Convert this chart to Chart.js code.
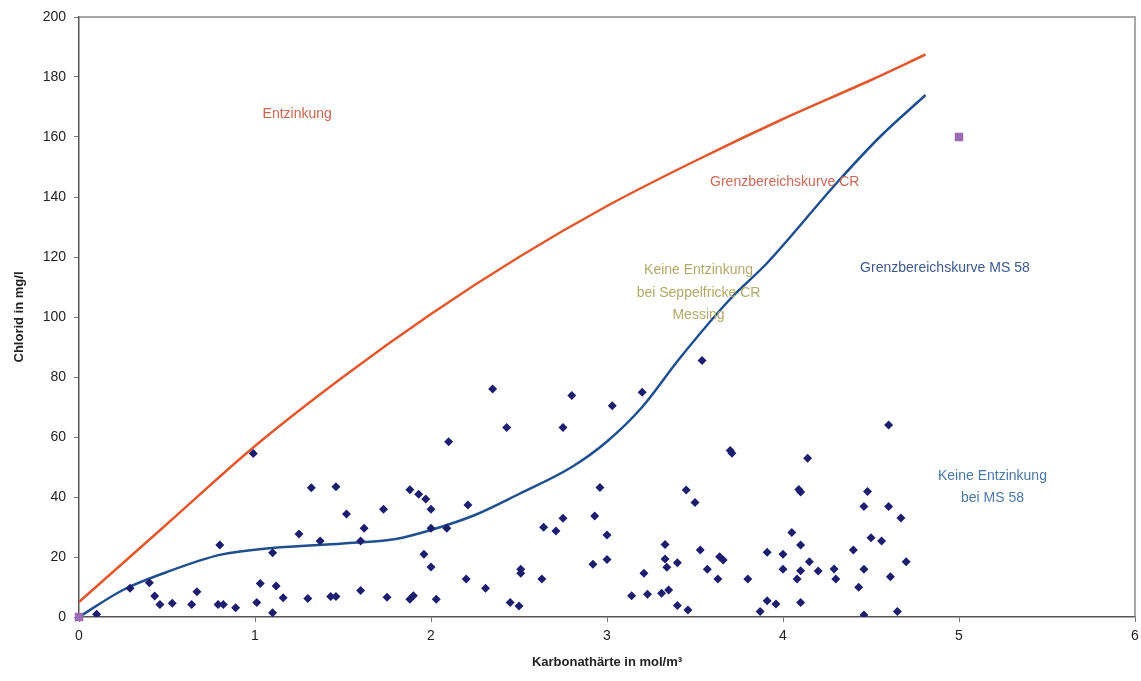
<!DOCTYPE html>
<html>
<head>
<meta charset="utf-8">
<script src="https://cdn.jsdelivr.net/npm/chart.js@4.4.0/dist/chart.umd.min.js"></script>
<style>
  body { margin: 0; background: #fff; }
  #wrap { width: 1141px; height: 681px; }
</style>
</head>
<body>
<div id="wrap"><canvas id="chlorChart"></canvas></div>
<script>
// Messpunkte (Karbonathärte, Chlorid)
const messX = [0.10, 0.29, 0.40, 0.43, 0.46, 0.53, 0.64, 0.67, 0.79, 0.82, 0.80, 0.89, 0.99, 1.01, 1.03, 1.10, 1.10, 1.12, 1.16,
  1.25, 1.30, 1.32, 1.37, 1.43, 1.46, 1.46, 1.52, 1.60, 1.62, 1.60, 1.73, 1.75, 1.88, 1.93, 1.97, 2.00, 2.00, 2.09, 2.21,
  1.96, 2.00, 2.20, 2.31, 1.88, 1.90, 2.03, 2.45, 2.50, 2.10, 2.35, 2.43, 2.51, 2.51, 2.63, 2.64, 2.71, 2.75, 2.75, 2.80,
  2.92, 2.93, 2.96, 3.00, 3.00, 3.03, 3.14, 3.20, 3.21, 3.23, 3.31, 3.35, 3.33, 3.33, 3.34, 3.40, 3.40, 3.46, 3.45, 3.50,
  3.53, 3.54, 3.57, 3.63, 3.64, 3.66, 3.70, 3.71, 3.80, 3.87, 3.91, 3.96, 3.91, 4.00, 4.00, 4.05, 4.08, 4.10, 4.10, 4.10,
  4.09, 4.10, 4.14, 4.15, 4.20, 4.29, 4.30, 4.40, 4.43, 4.46, 4.46, 4.46, 4.48, 4.50, 4.56, 4.60, 4.60, 4.61, 4.65, 4.67, 4.70];
const messY = [0.9, 9.6, 11.4, 7.0, 4.2, 4.6, 4.2, 8.4, 4.2, 4.2, 24.0, 3.1, 54.5, 4.8, 11.2, 21.4, 1.4, 10.3, 6.4,
  27.7, 6.2, 43.1, 25.3, 6.8, 6.8, 43.4, 34.3, 25.3, 29.6, 8.8, 35.9, 6.6, 42.4, 40.9, 39.3, 35.9, 29.6, 29.6, 37.3,
  20.9, 16.7, 12.7, 9.6, 5.9, 7.1, 5.9, 4.8, 3.7, 58.4, 76.0, 63.2, 15.9, 14.6, 12.7, 29.9, 28.7, 32.9, 63.2, 73.8,
  17.6, 33.7, 43.2, 27.3, 19.2, 70.4, 7.1, 74.9, 14.6, 7.6, 7.9, 9.0, 24.2, 19.3, 16.6, 18.1, 3.8, 2.3, 42.3, 38.2,
  22.3, 85.5, 15.9, 12.7, 20.1, 19.0, 55.5, 54.6, 12.7, 1.8, 5.4, 4.3, 21.6, 20.9, 15.9, 28.2, 12.7, 15.4, 24.0, 4.8,
  42.5, 41.7, 52.9, 18.4, 15.3, 16.0, 12.7, 22.3, 9.9, 0.7, 15.9, 36.8, 41.8, 26.4, 25.3, 36.8, 64.0, 13.4, 1.8, 33.0, 18.4];

// Referenzpunkte (lila)
const refX = [0, 5];
const refY = [0, 160];

// Grenzbereichskurve CR
const crX = [0, 0.5, 1, 1.5, 2, 2.5, 3, 3.5, 4, 4.5, 4.81];
const crY = [5, 31, 57, 80, 101, 120, 137, 152, 166, 179, 187.5];

// Grenzbereichskurve MS 58
const msX = [0, 0.25, 0.5, 0.8, 1.1, 1.5, 1.8, 2.0, 2.25, 2.5, 2.8, 3.0, 3.2, 3.41, 3.7, 3.91, 4.31, 4.55, 4.81];
const msY = [0, 9, 15, 20.7, 23, 24.5, 26, 29, 34, 41, 50, 58.5, 70, 86, 106, 118, 145, 160, 174];

const xTicks = [0, 1, 2, 3, 4, 5, 6];

// Beschriftungen im Diagramm (Datenkoordinaten)
const notes = [
  { text: 'Entzinkung', x: 1.24, y: 167.5, color: '#c8664e' },
  { text: 'Grenzbereichskurve CR', x: 4.01, y: 145, color: '#cc6a58' },
  { text: 'Keine Entzinkung', x: 3.52, y: 115.5, color: '#b3a868' },
  { text: 'bei Seppelfricke CR', x: 3.52, y: 108, color: '#b3a868' },
  { text: 'Messing', x: 3.52, y: 100.5, color: '#b3a868' },
  { text: 'Grenzbereichskurve MS 58', x: 4.92, y: 116.3, color: '#3e5a8c' },
  { text: 'Keine Entzinkung', x: 5.19, y: 46.8, color: '#4a78a8' },
  { text: 'bei MS 58', x: 5.19, y: 39.7, color: '#4a78a8' }
];

const toPts = (xs, ys) => xs.map((x, i) => ({ x: x, y: ys[i] }));

const notesPlugin = {
  id: 'notes',
  afterDatasetsDraw(chart) {
    const ctx = chart.ctx;
    const xs = chart.scales.x, ys = chart.scales.y;
    ctx.save();
    ctx.font = '14px "Liberation Sans", Arial, sans-serif';
    ctx.textAlign = 'center';
    ctx.textBaseline = 'middle';
    notes.forEach(n => {
      ctx.fillStyle = n.color;
      ctx.fillText(n.text, xs.getPixelForValue(n.x), ys.getPixelForValue(n.y));
    });
    ctx.restore();
  }
};

const framePlugin = {
  id: 'frame',
  afterDraw(chart) {
    const a = chart.chartArea;
    const ctx = chart.ctx;
    ctx.save();
    ctx.strokeStyle = '#8a8a8a';
    ctx.lineWidth = 1.5;
    ctx.beginPath();
    ctx.moveTo(a.left, a.top);
    ctx.lineTo(a.right, a.top);
    ctx.lineTo(a.right, a.bottom);
    ctx.stroke();
    ctx.restore();
  }
};

const ctx = document.getElementById('chlorChart').getContext('2d');
const chlorChart = new Chart(ctx, {
  type: 'scatter',
  data: {
    datasets: [
      {
        label: 'Messwerte',
        data: toPts(messX, messY),
        pointStyle: 'rectRot',
        pointRadius: 4.5,
        backgroundColor: '#1e1e6e',
        borderWidth: 0
      },
      {
        label: 'Referenz',
        data: toPts(refX, refY),
        pointStyle: 'rect',
        pointRadius: 6,
        backgroundColor: '#9a6cb4',
        borderWidth: 0,
        clip: false
      },
      {
        label: 'Grenzbereichskurve CR',
        data: toPts(crX, crY),
        showLine: true,
        pointRadius: 0,
        borderColor: '#e2572c',
        borderWidth: 2.5,
        cubicInterpolationMode: 'monotone'
      },
      {
        label: 'Grenzbereichskurve MS 58',
        data: toPts(msX, msY),
        showLine: true,
        pointRadius: 0,
        borderColor: '#1f4f8e',
        borderWidth: 2.5,
        cubicInterpolationMode: 'monotone'
      }
    ]
  },
  options: {
    responsive: true,
    maintainAspectRatio: false,
    animation: false,
    layout: { padding: { top: 17, right: 6, left: 0, bottom: 0 } },
    plugins: { legend: { display: false }, tooltip: { enabled: false } },
    scales: {
      x: {
        type: 'linear',
        min: 0,
        max: 6,
        afterFit: s => { s.height = 64; s.paddingRight = 0; s.paddingLeft = 0; },
        afterBuildTicks: s => { s.ticks = xTicks.map(v => ({ value: v })); },
        border: { color: '#555', width: 1.5 },
        grid: { display: true, drawOnChartArea: false, tickLength: 5, color: '#777' },
        ticks: { color: '#222', font: { size: 14, family: '"Liberation Sans", Arial, sans-serif' }, padding: 6 },
        title: {
          display: true,
          text: 'Karbonathärte in mol/m³',
          color: '#222',
          font: { size: 13, weight: 'bold', family: '"Liberation Sans", Arial, sans-serif' },
          padding: { top: 0, bottom: 11 }
        }
      },
      y: {
        min: 0,
        max: 200,
        afterFit: s => { s.width = 79; s.paddingTop = 0; s.paddingBottom = 0; },
        border: { color: '#555', width: 1.5 },
        grid: { display: true, drawOnChartArea: false, tickLength: 5, color: '#777' },
        ticks: { stepSize: 20, color: '#222', font: { size: 14, family: '"Liberation Sans", Arial, sans-serif' }, padding: 8 },
        title: {
          display: true,
          text: 'Chlorid in mg/l',
          color: '#222',
          font: { size: 13, weight: 'bold', family: '"Liberation Sans", Arial, sans-serif' },
          padding: { top: 12, bottom: 0 }
        }
      }
    }
  },
  plugins: [notesPlugin, framePlugin]
});
</script>
</body>
</html>
